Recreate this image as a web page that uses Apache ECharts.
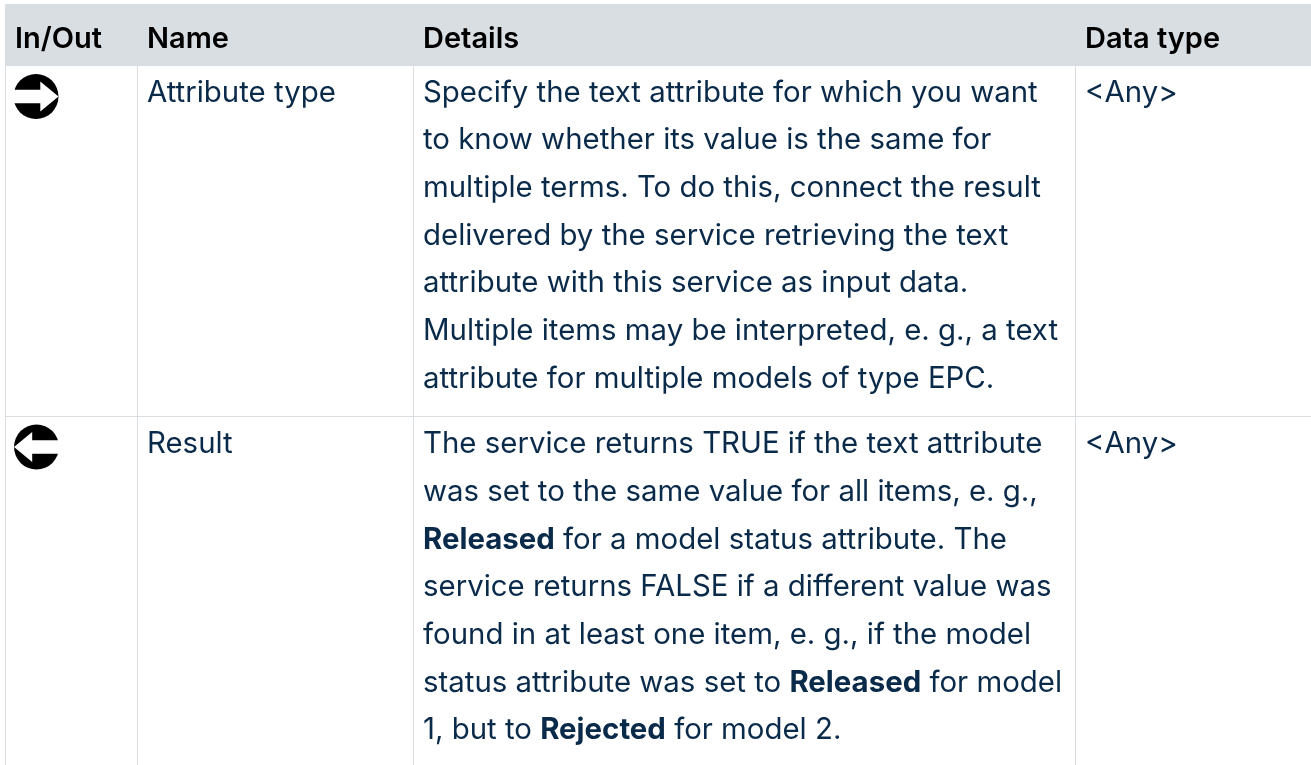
<!DOCTYPE html>
<html><head><meta charset="utf-8">
<style>html,body{margin:0;padding:0;background:#fff}#c{width:1311px;height:765px}</style>
<script src="https://cdn.jsdelivr.net/npm/echarts@6/dist/echarts.min.js"></script>
</head><body><div id="c"></div>
<script>
const headers = ['In/Out','Name','Details','Data type'];
const directions = ['in','out'];
const names = ['Attribute type','Result'];
const dataTypes = ['<Any>','<Any>'];
const detailsIn = [
 'Specify the text attribute for which you want',
 'to know whether its value is the same for',
 'multiple terms. To do this, connect the result',
 'delivered by the service retrieving the text',
 'attribute with this service as input data.',
 'Multiple items may be interpreted, e. g., a text',
 'attribute for multiple models of type EPC.'
];
const detailsOut = [
 'The service returns TRUE if the text attribute',
 'was set to the same value for all items, e. g.,',
 '{b|Released} for a model status attribute. The',
 'service returns FALSE if a different value was',
 'found in at least one item, e. g., if the model',
 'status attribute was set to {b|Released} for model',
 '1, but to {b|Rejected} for model 2.'
];
const details = [detailsIn, detailsOut];

const FONT = 'Inter', SIZE = 29.4, HSIZE = 29, LH = 47.65;
const INK = '#0a2a4a', HEAD = '#000', RULE = '#d9dee3';
const colX = [5,137,413,1075,1311];
const headTop = 4, headBottom = 66, rowEdges = [66,416,765];
const textY = [93,444.5];
const iconY = [96.5,447];
const el = [];
const txt = (x,y,t,extra={}) => ({type:'text',x,y,silent:true,style:Object.assign({
  text:t,fontFamily:FONT,fontSize:SIZE,fill:INK,verticalAlign:'middle',align:'left',
  rich:{b:{fontFamily:FONT,fontSize:SIZE,fontWeight:700,fill:INK,verticalAlign:'middle'}}
},extra)});
const rect = (x,y,w,h,f) => ({type:'rect',silent:true,shape:{x,y,width:w,height:h},style:{fill:f}});
el.push(rect(colX[0],headTop,colX[4]-colX[0],headBottom-headTop,RULE));
colX.slice(0,4).forEach(x=>el.push(rect(x,headBottom,1,rowEdges[2]-headBottom,RULE)));
el.push(rect(colX[0],rowEdges[1],colX[4]-colX[0],1,RULE));
headers.forEach((h,i)=>el.push(txt(colX[i]+10,39.5,h,{fontWeight:600,fontFamily:FONT,fontSize:HSIZE,fill:HEAD})));
const arrow = (cx,cy,d) => {
  el.push({type:'circle',silent:true,shape:{cx,cy,r:22.5},style:{fill:'#000'}});
  const p = [[-23,-6.7],[4.3,-6.7],[4.3,-15],[22.5,0],[4.3,15],[4.3,6.7],[-23,6.7]].map(([a,b])=>[cx+d*a,cy+b]);
  el.push({type:'polygon',silent:true,shape:{points:p},style:{fill:'#fff'}});
};
directions.forEach((dir,i)=>{
  arrow(36+i*0.5,iconY[i],dir==='in'?1:-1);
  el.push(txt(colX[1]+10,textY[i],names[i]));
  details[i].forEach((l,j)=>el.push(txt(colX[2]+10,textY[i]+j*LH,l)));
  el.push(txt(colX[3]+10,textY[i],dataTypes[i]));
});
const chart = echarts.init(document.getElementById('c'),null,{renderer:'canvas'});
chart.setOption({animation:false,backgroundColor:'#fff',graphic:{elements:el}});
</script></body></html>
